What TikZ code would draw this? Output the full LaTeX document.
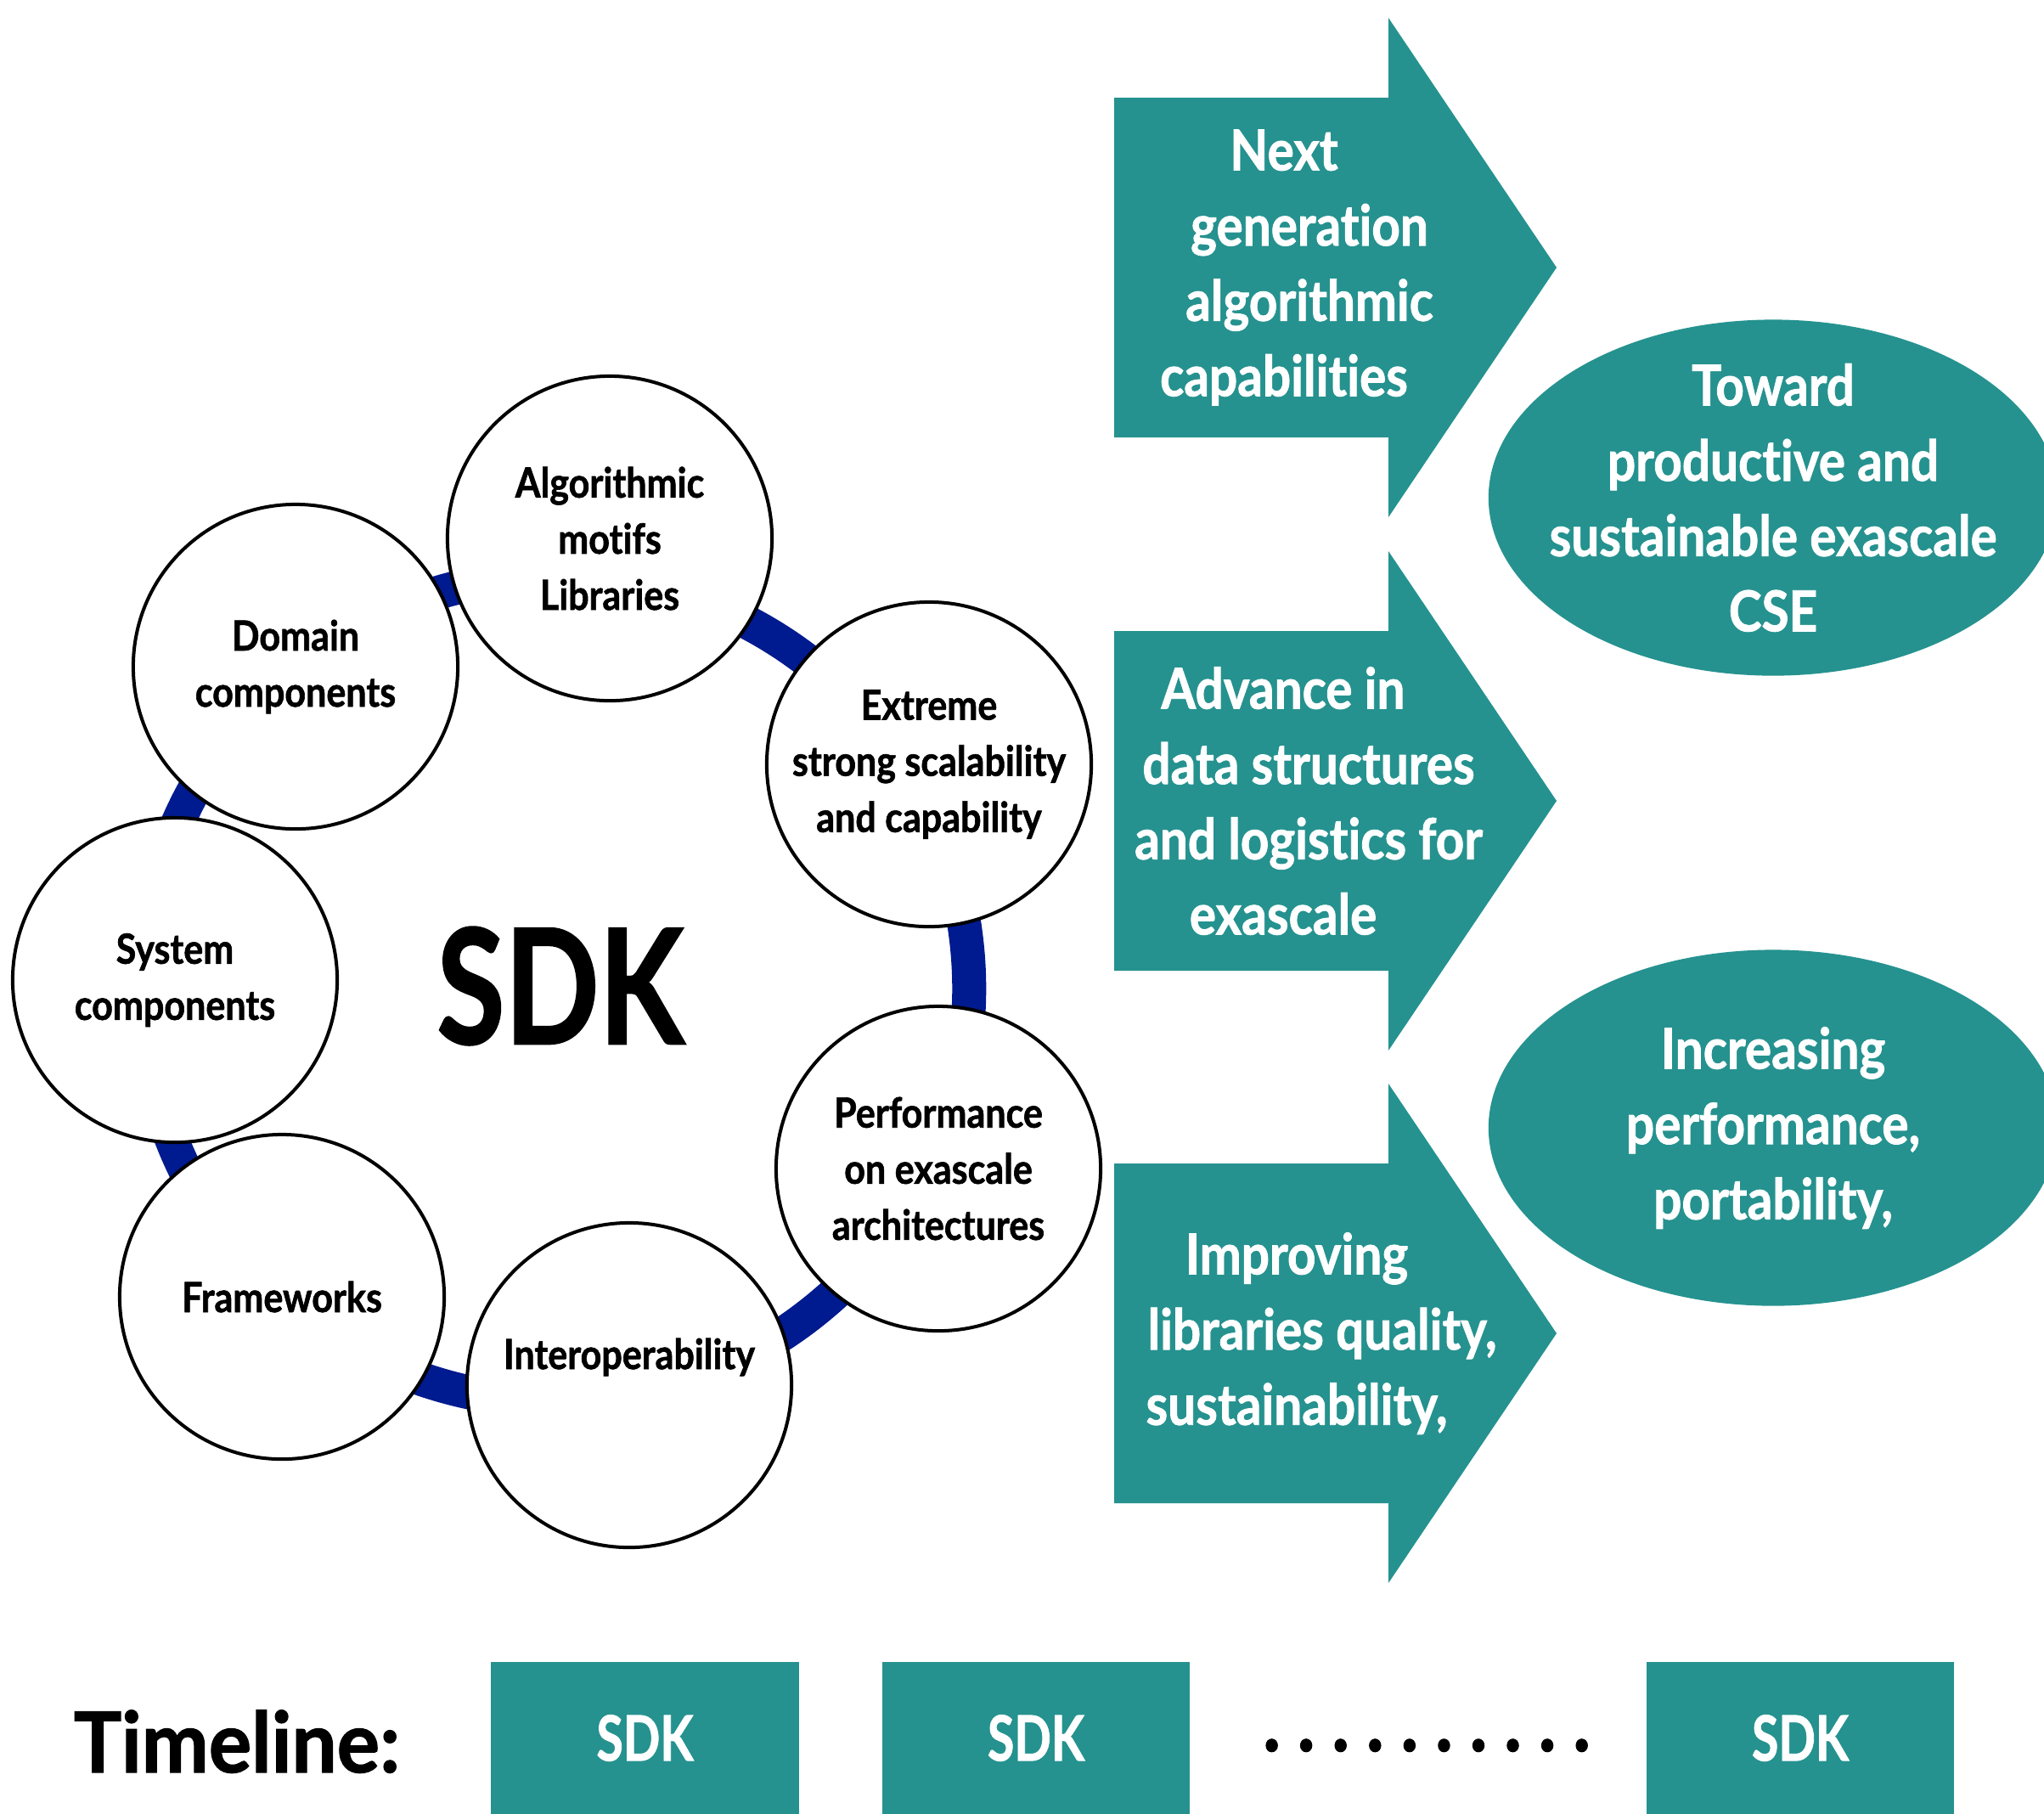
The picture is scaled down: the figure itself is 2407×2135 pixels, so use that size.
\documentclass[tikz,border=0pt]{standalone}
\usepackage{fontspec}
\setmainfont{Lato}[FakeStretch=0.88, Ligatures=NoCommon, BoldFeatures={FakeBold=1.2}]
\usetikzlibrary{shapes.geometric}

\definecolor{tealfill}{RGB}{37,146,143}
\definecolor{ringblue}{RGB}{0,26,143}

\tikzset{
  ring/.style={draw=ringblue, line width=0.40cm},
  bubble/.style={circle, draw=black, line width=0.04cm, fill=white,
                 minimum size=3.82cm, inner sep=0pt},
  bubtext/.style={align=center, inner sep=0pt,
                  font=\bfseries\fontsize{13.9}{18.8}\selectfont},
  flow/.style={fill=tealfill},
  flowtext/.style={align=center, inner sep=0pt, text=white,
                   font=\bfseries\fontsize{18.9}{25.2}\selectfont},
  goal/.style={ellipse, fill=tealfill, minimum width=6.70cm,
               minimum height=4.19cm, inner sep=0pt},
  release/.style={rectangle, fill=tealfill, minimum width=3.62cm,
                  minimum height=1.78cm, inner sep=0pt, text=white,
                  font=\bfseries\fontsize{21}{25}\selectfont},
  bigtitle/.style={inner sep=0pt, font=\bfseries\fontsize{53.6}{60}\selectfont},
  timelabel/.style={inner sep=0pt, font=\bfseries\fontsize{28.2}{32}\selectfont},
}

\begin{document}
\begin{tikzpicture}[x=0.01cm, y=-0.01cm]
  \useasboundingbox (0,0) rectangle (2407,2135);
  \clip (0,0) rectangle (2407,2135);

  % ---- the SDK cycle -------------------------------------------------
  \coordinate (hub) at (655,1164);
  \draw[ring] (hub) circle[radius=4.86cm];

  \node[bubble] (algo)   at (718,634)   {};
  \node[bubble] (domain) at (348,785)   {};
  \node[bubble] (scale)  at (1094,900)  {};
  \node[bubble] (system) at (206,1154)  {};
  \node[bubble] (perf)   at (1105,1376) {};
  \node[bubble] (frame)  at (332,1527)  {};
  \node[bubble] (inter)  at (741,1631)  {};

  \node[bubtext] (algoT)   at (algo)   {Algorithmic\\motifs\\Libraries};
  \node[bubtext] (domainT) at (domain) {Domain\\components};
  \node[bubtext] (scaleT)  at (scale)  {Extreme\\strong scalability\\and capability};
  \node[bubtext] (systemT) at (system) {System\\components};
  \node[bubtext] (perfT)   at (perf)   {Performance\\on exascale\\architectures};
  \node[bubtext] (frameT)  at (frame)  {Frameworks};
  \node[bubtext, yshift=0.33cm] (interT) at (inter) {Interoperability};

  \node[bigtitle] (sdk) at (660,1161) {\scalebox{0.88}[1]{SDK}};

  % ---- progress arrows -----------------------------------------------
  \coordinate (a1) at (1312,315);
  \coordinate (a2) at (1312,943);
  \coordinate (a3) at (1312,1570);
  \foreach \a in {a1,a2,a3}{
    \fill[flow] (\a) ++(0,-200) -- ++(323,0) -- ++(0,-94) -- ++(198,294)
                -- ++(-198,294) -- ++(0,-94) -- ++(-323,0) -- cycle;
  }

  \node[flowtext] (a1T) at (1542,315)
    {Next\hspace*{0.6cm}\\generation\\algorithmic\\capabilities\hspace*{0.6cm}};
  \node[flowtext] (a2T) at (1541,943)
    {Advance in\hspace*{0.6cm}\\data structures\\and logistics for\\exascale\hspace*{0.6cm}};
  \node[flowtext] (a3T) at (1557,1570)
    {Improving\hspace*{0.6cm}\\libraries quality,\\sustainability,\hspace*{0.6cm}};

  % ---- goals ---------------------------------------------------------
  \node[goal] (g1) at (2088,586)  {};
  \node[goal] (g2) at (2088,1328) {};
  \node[flowtext] (g1T) at (g1)
    {Toward\\productive and\\sustainable exascale\\CSE};
  \node[flowtext] (g2T) at (g2)
    {Increasing\\performance,\\portability,};

  % ---- timeline ------------------------------------------------------
  \node[timelabel, anchor=base] (tl) at (279,2087) {\scalebox{1.08}[1]{Timeline:}};
  \node[release] (r1) at (759.5,2046.5) {\scalebox{0.88}[1]{SDK}};
  \node[release] (r2) at (1220,2046.5)  {\scalebox{0.88}[1]{SDK}};
  \node[release] (r3) at (2120,2046.5)  {\scalebox{0.88}[1]{SDK}};
  \node[timelabel, anchor=base] (more) at (1680,2062)
    {\foreach \i in {1,...,10}{\makebox[0.405cm]{.}}};
\end{tikzpicture}
\end{document}
